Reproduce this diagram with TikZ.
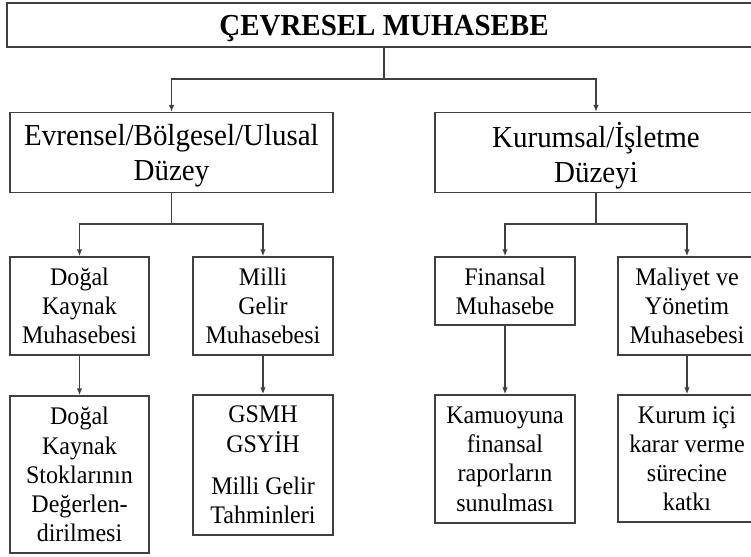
\documentclass[tikz,border=0pt]{standalone}
\usepackage{fontspec}
\setmainfont[FakeStretch=0.95]{Liberation Serif}
\usetikzlibrary{arrows.meta}
\begin{document}
\begin{tikzpicture}[x=1pt,y=-1pt,
  box/.style={draw=black!75,line width=1.4pt,inner sep=0pt,align=center,text depth=0pt},
  titlebox/.style={box,font=\fontsize{30.5}{31}\selectfont\bfseries},
  levelbox/.style={box,font=\fontsize{30.5}{35}\selectfont},
  unitbox/.style={box,font=\fontsize{25.3}{29.2}\selectfont},
  link/.style={draw=black!75,line width=1.4pt},
  arr/.style={link,-{Latex[length=7pt,width=5.5pt]}}]
\useasboundingbox (0,0) rectangle (751,556);

% Top
\node[titlebox,minimum width=754pt,minimum height=44pt] (title) at (384,25) {ÇEVRESEL MUHASEBE};

% Levels
\node[levelbox,minimum width=323pt,minimum height=80pt] (evr) at (171.5,152.7) {Evrensel/Bölgesel/Ulusal\\Düzey};
\node[levelbox,minimum width=322pt,minimum height=80pt] (kur) at (596,152.7) {Kurumsal/İşletme\\Düzeyi};

% Accounting types
\node[unitbox,minimum width=139pt,minimum height=98pt] (dkm) at (79.5,306) {Doğal\\Kaynak\\Muhasebesi};
\node[unitbox,minimum width=140pt,minimum height=98pt] (mgm) at (263,306) {Milli\\Gelir\\Muhasebesi};
\node[unitbox,minimum width=140pt,minimum height=68pt] (fin) at (505,291) {Finansal\\Muhasebe};
\node[unitbox,minimum width=138pt,minimum height=98pt] (mal) at (687,306) {Maliyet ve\\Yönetim\\Muhasebesi};

% Outputs
\node[unitbox,minimum width=139pt,minimum height=157pt] (dks) at (79.5,474.5) {Doğal\\Kaynak\\Stoklarının\\Değerlen-\\dirilmesi};
\node[unitbox,minimum width=140pt,minimum height=140pt] (gsm) at (263,465) {GSMH\\GSYİH\\[13.4pt]Milli Gelir\\Tahminleri};
\node[unitbox,minimum width=140pt,minimum height=128pt] (kam) at (505,459) {Kamuoyuna\\finansal\\raporların\\sunulması};
\node[unitbox,minimum width=138pt,minimum height=127pt] (kic) at (687,458.5) {Kurum içi\\karar verme\\sürecine\\katkı};

% Branches
\coordinate (b0) at (384,79);
\coordinate (b1) at (171.5,224);
\coordinate (b2) at (596,224);
\draw[link] (title.south) -- (b0);
\draw[arr] (b0) -| (evr.north);
\draw[arr] (b0) -| (kur.north);
\draw[link] (evr.south) -- (b1);
\draw[arr] (b1) -| (dkm.north);
\draw[arr] (b1) -| (mgm.north);
\draw[link] (kur.south) -- (b2);
\draw[arr] (b2) -| (fin.north);
\draw[arr] (b2) -| (mal.north);

% Down links
\draw[arr] (dkm) -- (dks);
\draw[arr] (mgm) -- (gsm);
\draw[arr] (fin) -- (kam);
\draw[arr] (mal) -- (kic);
\end{tikzpicture}
\end{document}
